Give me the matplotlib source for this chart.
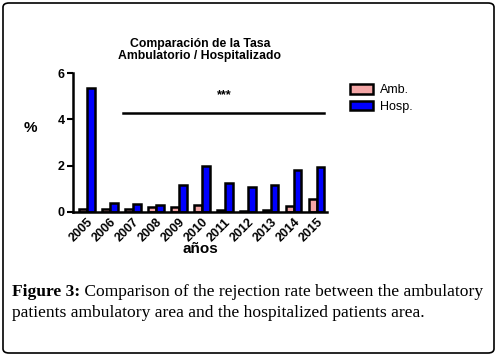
import matplotlib
matplotlib.use("Agg")
import matplotlib.pyplot as plt
import numpy as np
from matplotlib.patches import FancyBboxPatch

years = ["2005", "2006", "2007", "2008", "2009", "2010", "2011", "2012", "2013", "2014", "2015"]
amb = [0.15, 0.15, 0.15, 0.2, 0.2, 0.3, 0.1, 0.05, 0.1, 0.28, 0.55]
hosp = [5.35, 0.4, 0.33, 0.3, 1.15, 2.0, 1.25, 1.1, 1.15, 1.8, 1.95]
yticks = [0, 2, 4, 6]
sig_label = "***"
sig_y = 4.28
sig_start_idx, sig_end_idx = 2, 10
caption_bold = "Figure 3:"
caption_rest = " Comparison of the rejection rate between the ambulatory"
caption_line2 = "patients ambulatory area and the hospitalized patients area."

W, H = 502, 355
fig = plt.figure(figsize=(W / 100, H / 100), dpi=100)
plt.rcParams['font.family'] = ['Liberation Sans', 'DejaVu Sans']

ax = fig.add_axes([73 / W, (H - 212) / H, 254 / W, 139 / H])
x = np.arange(len(years))
bw = 0.34
ax.bar(x - bw / 2, amb, bw, color="#f4a6a6", edgecolor="black", linewidth=1.8, label="Amb.")
ax.bar(x + bw / 2, hosp, bw, color="#0000ff", edgecolor="black", linewidth=1.8, label="Hosp.")

ax.set_xlim(-0.6, len(years) - 1 + 0.45)
ax.set_ylim(0, 6)
ax.set_yticks(yticks)
ax.set_yticklabels([str(t) for t in yticks], fontweight="bold", fontsize=9)
ax.set_xticks(x)
ax.set_xticklabels(years, rotation=45, ha="right", rotation_mode="anchor",
                   fontweight="bold", fontsize=9)
ax.tick_params(axis="x", length=0, pad=3)
ax.tick_params(axis="y", length=4, width=1.5, pad=2)
for s in ["top", "right"]:
    ax.spines[s].set_visible(False)
for s in ["left", "bottom"]:
    ax.spines[s].set_linewidth(1.8)

# significance bar
ax.plot([sig_start_idx - bw - 0.07, sig_end_idx + bw - 0.01], [sig_y, sig_y], color="black", lw=1.8)
ax.text((sig_start_idx + sig_end_idx) / 2, sig_y + 0.5, sig_label, ha="center", va="bottom",
        fontsize=9, fontweight="bold")

ax.set_title("Comparación de la Tasa\nAmbulatorio / Hospitalizado", fontsize=8.8,
             fontweight="bold", pad=10, linespacing=1.0)
ax.set_xlabel("años", fontweight="bold", fontsize=11, labelpad=-2)
fig.text(30 / W, 1 - 128 / H, "%", fontsize=11, fontweight="bold", ha="center", va="center")

leg = fig.legend(loc="upper left", bbox_to_anchor=(339 / W, 1 - 73 / H), frameon=False,
                 fontsize=9, handlelength=1.8, handleheight=0.8, labelspacing=0.35,
                 handletextpad=0.6)

t1 = fig.text(12 / W, 1 - 292 / H, caption_bold, family="Liberation Serif", fontsize=12.6,
              fontweight="bold", va="center", ha="left")
fig.canvas.draw()
bb = t1.get_window_extent()
fig.text(bb.x1 / W, 1 - 292 / H, caption_rest, family="Liberation Serif", fontsize=12.6,
         va="center", ha="left")
fig.text(12 / W, 1 - 313 / H, caption_line2, family="Liberation Serif", fontsize=12.6,
         va="center", ha="left")

border = FancyBboxPatch((3 / W, 2 / H), 491 / W, 350 / H, boxstyle="round,pad=0,rounding_size=0.012",
                        transform=fig.transFigure, fill=False, edgecolor="black", linewidth=1.2)
fig.patches.append(border)

fig.savefig("out.png", dpi=100)
